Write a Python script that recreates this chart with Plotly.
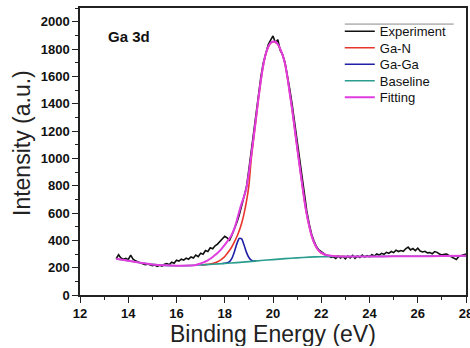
import plotly.graph_objects as go

# ---------------- data ----------------
exp_energy = [
    13.5, 13.6, 13.7, 13.8, 13.9,
    14.0, 14.1, 14.2, 14.3, 14.4, 14.5, 14.6, 14.7, 14.8, 14.9,
    15.0, 15.1, 15.2, 15.3, 15.4, 15.5, 15.6, 15.7, 15.8, 15.9,
    16.0, 16.1, 16.2, 16.3, 16.4, 16.5, 16.6, 16.7, 16.8, 16.9,
    17.0, 17.1, 17.2, 17.3, 17.4, 17.5, 17.6, 17.7, 17.8, 17.9,
    18.0, 18.1, 18.2, 18.3, 18.4, 18.5, 18.6, 18.7, 18.8, 18.9,
    19.0, 19.1, 19.2, 19.3, 19.4, 19.5, 19.6, 19.7, 19.8, 19.9,
    20.0, 20.1, 20.2, 20.3, 20.4, 20.5, 20.6, 20.7, 20.8, 20.9,
    21.0, 21.1, 21.2, 21.3, 21.4, 21.5, 21.6, 21.7, 21.8, 21.9,
    22.0, 22.1, 22.2, 22.3, 22.4, 22.5, 22.6, 22.7, 22.8, 22.9,
    23.0, 23.1, 23.2, 23.3, 23.4, 23.5, 23.6, 23.7, 23.8, 23.9,
    24.0, 24.1, 24.2, 24.3, 24.4, 24.5, 24.6, 24.7, 24.8, 24.9,
    25.0, 25.1, 25.2, 25.3, 25.4, 25.5, 25.6, 25.7, 25.8, 25.9,
    26.0, 26.1, 26.2, 26.3, 26.4, 26.5, 26.6, 26.7, 26.8, 26.9,
    27.0, 27.1, 27.2, 27.3, 27.4, 27.5, 27.6, 27.7, 27.8, 27.9,
    28.0,
]
exp_intensity = [
    265, 295, 270, 262, 268,
    258, 292, 262, 250, 240, 235, 228, 222, 226, 218,
    215, 220, 210, 218, 212, 225, 230, 222, 240, 232,
    255, 248, 262, 255, 270, 262, 278, 270, 292, 280,
    305, 298, 325, 318, 345, 338, 360, 372, 390, 410,
    430, 418, 402, 440, 480, 530, 585, 650, 715, 790,
    920, 1060, 1190, 1335, 1470, 1600, 1700, 1775, 1830, 1865,
    1895, 1845, 1868, 1790, 1760, 1700, 1610, 1500, 1385, 1250,
    1120, 985, 850, 720, 615, 520, 445, 395, 355, 330,
    315, 302, 292, 288, 275, 280, 268, 285, 270, 282,
    265, 285, 272, 290, 268, 285, 275, 292, 278, 288,
    280, 295, 285, 300, 292, 305, 298, 312, 305, 318,
    310, 328, 318, 325, 320, 338, 350, 330, 340, 325,
    342, 322, 315, 320, 308, 310, 302, 318, 312, 300,
    292, 298, 300, 288, 278, 268, 260, 282, 288, 295,
    300,
]

gan_energy = [17.0, 17.2, 17.4, 17.5, 17.6, 17.7, 17.8, 17.9, 18.0, 18.1,
              18.2, 18.3, 18.4, 18.5, 18.6, 18.7, 18.8, 18.9, 19.0, 19.1,
              19.2, 19.3, 19.4, 19.5, 19.6, 19.7, 19.8, 19.9, 20.0, 20.1,
              20.2, 20.3, 20.4, 20.5, 20.6, 20.7, 20.8, 20.9, 21.0, 21.1,
              21.2, 21.3, 21.4, 21.5, 21.6, 21.7, 21.8, 21.9, 22.0, 22.2,
              22.4, 22.6, 23.0]
gan_intensity = [219, 222, 227, 231, 236, 243, 253, 266, 282, 303,
                 327, 355, 388, 426, 470, 525, 595, 685, 800, 1000,
                 1145, 1290, 1438, 1570, 1682, 1762, 1812, 1842, 1852, 1850,
                 1832, 1797, 1752, 1687, 1587, 1467, 1347, 1212, 1077, 947,
                 817, 692, 587, 502, 432, 382, 347, 322, 307, 291,
                 285, 283, 282]

gaga_energy = [17.9, 18.0, 18.1, 18.2, 18.3, 18.4, 18.5, 18.6, 18.7, 18.8,
               18.9, 19.0, 19.1, 19.2, 19.3]
gaga_intensity = [230, 232, 236, 245, 270, 317, 374, 414, 410, 366,
                  312, 274, 255, 248, 248]

base_energy = [13.5, 14.0, 14.5, 15.0, 15.5, 16.0, 16.5, 17.0, 17.5, 18.0,
               18.5, 19.0, 19.5, 20.0, 20.5, 21.0, 21.5, 22.0, 22.5, 23.0,
               24.0, 25.0, 26.0, 27.0, 28.0]
base_intensity = [264, 250, 236, 224, 217, 214, 215, 219, 225, 231,
                  237, 244, 252, 259, 266, 272, 277, 280, 282, 282,
                  282, 283, 284, 285, 286]

fit_energy = [13.5, 14.0, 14.5, 15.0, 15.5, 16.0, 16.5, 16.8, 17.0, 17.1,
              17.2, 17.3, 17.4, 17.5, 17.6, 17.7, 17.8, 17.9, 18.0, 18.1,
              18.2, 18.3, 18.4, 18.5, 18.6, 18.7, 18.8, 18.9, 19.0, 19.1,
              19.2, 19.3, 19.4, 19.5, 19.6, 19.7, 19.8, 19.9, 20.0, 20.1,
              20.2, 20.3, 20.4, 20.5, 20.6, 20.7, 20.8, 20.9, 21.0, 21.1,
              21.2, 21.3, 21.4, 21.5, 21.6, 21.7, 21.8, 21.9, 22.0, 22.2,
              22.4, 22.6, 23.0, 24.0, 25.0, 26.0, 27.0, 28.0]
fit_intensity = [266, 250, 236, 224, 217, 214, 216, 220, 230, 237,
                 245, 254, 265, 278, 292, 308, 325, 345, 366, 390,
                 415, 445, 485, 545, 610, 670, 720, 785, 895, 1025,
                 1160, 1300, 1445, 1575, 1685, 1765, 1815, 1845, 1855, 1853,
                 1835, 1800, 1755, 1690, 1590, 1470, 1350, 1215, 1080, 950,
                 820, 695, 590, 505, 435, 385, 350, 325, 310, 293,
                 287, 284, 282, 282, 283, 284, 285, 288]

x_ticks = [12, 14, 16, 18, 20, 22, 24, 26, 28]
y_ticks = [0, 200, 400, 600, 800, 1000, 1200, 1400, 1600, 1800, 2000]

series_names = ["Experiment", "Ga-N", "Ga-Ga", "Baseline", "Fitting"]
series_colors = ["#111111", "#e8352b", "#1f1fa8", "#2a9d8f", "#e03ce0"]
series_widths = [1.6, 1.6, 1.6, 1.6, 2.0]

FONT = "Liberation Sans, Arial, sans-serif"

series_x = [exp_energy, gan_energy, gaga_energy, base_energy, fit_energy]
series_y = [exp_intensity, gan_intensity, gaga_intensity, base_intensity, fit_intensity]

# one small legend per series so that the row spacing can follow the reference
legend_ids = ["legend", "legend2", "legend3", "legend4", "legend5"]
legend_top = 0.919
legend_step = 0.0575

fig = go.Figure()
for i, name in enumerate(series_names):
    line = dict(color=series_colors[i], width=series_widths[i])
    if i > 0:
        line.update(shape="spline", smoothing=0.6)
    fig.add_trace(go.Scatter(x=series_x[i], y=series_y[i], mode="lines", name=name,
                             line=line, legend=legend_ids[i]))

axis_common = dict(
    showline=True, linecolor="#222222", linewidth=1.5, mirror=True,
    ticks="outside", ticklen=6, tickwidth=1.2, tickcolor="#222222",
    showgrid=False, zeroline=False, automargin=False,
    tickfont=dict(family=FONT, size=13, color="#111111", weight="bold"),
)

legend_layout = {}
for i, lid in enumerate(legend_ids):
    legend_layout[lid] = dict(
        x=0.673, y=legend_top - i * legend_step, xanchor="left", yanchor="middle",
        bgcolor="rgba(0,0,0,0)", borderwidth=0,
        font=dict(family=FONT, size=13, color="#111111"),
    )

fig.update_layout(
    template="none",
    width=470, height=348,
    margin=dict(l=80, r=4, t=8, b=53),
    paper_bgcolor="white", plot_bgcolor="white",
    xaxis=dict(range=[12, 28], tickvals=x_ticks, ticktext=[str(v) for v in x_ticks],
               ticklabeloverflow="allow",
               minor=dict(ticks="outside", ticklen=3, dtick=1, tickcolor="#222222", showgrid=False),
               **axis_common),
    yaxis=dict(range=[0, 2100], tickvals=y_ticks, ticktext=[str(v) for v in y_ticks],
               minor=dict(ticks="outside", ticklen=3, dtick=100, tickcolor="#222222", showgrid=False),
               **axis_common),
    showlegend=True,
    annotations=[
        dict(text="Binding Energy (eV)", xref="paper", yref="paper", x=0.5, y=-0.137,
             xanchor="center", yanchor="middle", showarrow=False, height=24, borderpad=0,
             font=dict(family=FONT, size=23, color="#222222")),
        dict(text="Intensity (a.u.)", xref="paper", yref="paper", x=-0.150, y=0.530,
             xanchor="center", yanchor="middle", showarrow=False, textangle=-90,
             font=dict(family=FONT, size=23, color="#222222")),
        dict(text="<b>Ga 3d</b>", xref="paper", yref="paper", x=0.067, y=0.899,
             xanchor="left", yanchor="middle", showarrow=False,
             font=dict(family=FONT, size=15, color="#111111")),
    ],
    shapes=[
        dict(type="line", xref="paper", yref="paper", x0=0.686, x1=0.968, y0=0.944, y1=0.944,
             line=dict(color="#888888", width=1)),
    ],
    **legend_layout,
)

fig.write_html("out.html", config={"displayModeBar": False},
               post_script="document.body.style.margin='0';")
